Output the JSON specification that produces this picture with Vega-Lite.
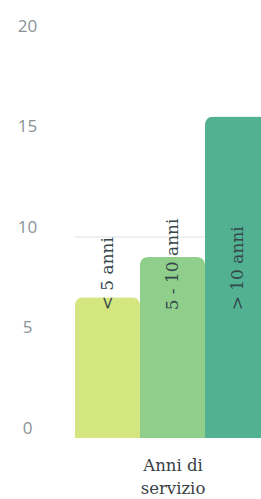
{
  "$schema": "https://vega.github.io/schema/vega-lite/v6.json",
  "autosize": "none",
  "padding": {"left": 75, "top": 36, "right": 0, "bottom": 61},
  "width": 195,
  "height": 402,
  "background": "white",
  "config": {"view": {"stroke": null}},
  "data": {"values": [
    {"cat": "< 5 anni", "value": 7},
    {"cat": "5 - 10 anni", "value": 9},
    {"cat": "> 10 anni", "value": 16}
  ]},
  "encoding": {
    "x": {"field": "cat", "type": "nominal", "sort": null,
      "scale": {"paddingInner": 0, "paddingOuter": 0},
      "axis": {"labels": false, "ticks": false, "domain": false, "title": ["Anni di", "servizio"],
        "titleFont": "DejaVu Serif", "titleFontSize": 16.5, "titleFontWeight": "normal", "titleColor": "#3a4044",
        "titleLineHeight": 23, "titlePadding": 19}}
  },
  "layer": [
    {
      "mark": {"type": "rule", "color": "#eeeeee", "strokeWidth": 1},
      "encoding": {"x": null, "y": {"datum": 10, "type": "quantitative"}}
    },
    {
      "mark": {"type": "bar", "cornerRadiusTopLeft": 8, "cornerRadiusTopRight": 8},
      "encoding": {
        "y": {"field": "value", "type": "quantitative",
          "scale": {"domain": [0, 20], "nice": false},
          "axis": {"values": [0, 5, 10, 15, 20], "grid": false, "domain": false, "ticks": false, "title": null,
            "labelAlign": "center", "labelPadding": 48, "labelOffset": -10, "labelFont": "Open Sans",
            "labelFontSize": 17, "labelColor": "#8a9297"}},
        "color": {"field": "cat", "type": "nominal", "sort": null, "legend": null,
          "scale": {"domain": ["< 5 anni", "5 - 10 anni", "> 10 anni"], "range": ["#d4e680", "#90cf8b", "#52b191"]}}
      }
    },
    {
      "mark": {"type": "text", "angle": 270, "align": "left", "baseline": "middle", "font": "DejaVu Serif", "fontSize": 17, "color": "#34474a"},
      "encoding": {
        "y": {"datum": 6.35, "type": "quantitative"},
        "text": {"field": "cat"}
      }
    }
  ]
}
